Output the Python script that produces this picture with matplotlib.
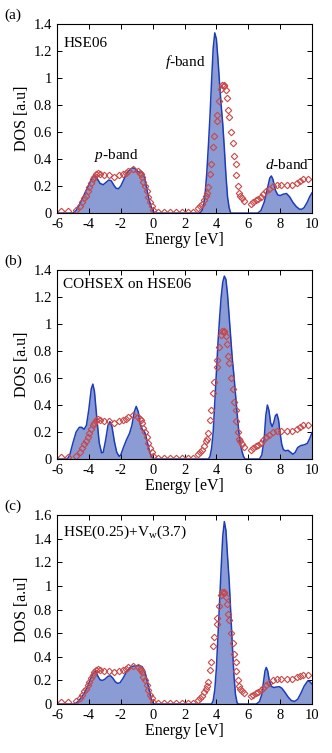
import matplotlib
matplotlib.use("Agg")
import matplotlib.pyplot as plt
from matplotlib.ticker import MultipleLocator, FuncFormatter

plt.rcParams['font.family'] = ['Liberation Serif', 'DejaVu Serif']
plt.rcParams['mathtext.fontset'] = 'custom'
plt.rcParams['mathtext.rm'] = 'Liberation Serif'
plt.rcParams['mathtext.it'] = 'Liberation Serif:italic'
plt.rcParams['axes.unicode_minus'] = False

# Experimental data (red diamonds), same in all panels
exp_e = [-5.75, -5.29, -4.83, -4.56, -4.41, -4.29, -4.18, -4.08, -3.97, -3.87, -3.76, -3.66,
         -3.55, -3.45, -3.3, -3.03, -2.74, -2.4, -2.09, -1.84, -1.67, -1.53, -1.25, -0.94,
         -0.80, -0.73, -0.65, -0.59, -0.48, -0.37, -0.27, -0.17, -0.06, 0.04, 0.34, 0.69,
         1.11, 1.49, 1.87, 2.22, 2.55, 2.83, 2.97, 3.12, 3.24, 3.33, 3.41, 3.5, 3.58, 3.66,
         3.79, 3.87, 4.02, 4.06, 4.18, 4.29, 4.37, 4.45, 4.5, 4.58, 4.64, 4.74, 4.81, 4.92,
         5.02, 5.12, 5.21, 5.25, 5.34, 5.42, 5.48, 5.59, 5.75, 6.2, 6.32, 6.49, 6.63, 6.78,
         6.94, 7.11, 7.32, 7.53, 7.78, 8.05, 8.41, 8.72, 9.04, 9.25, 9.45, 9.77]
exp_dos = [0.015, 0.015, 0.022, 0.053, 0.08, 0.11, 0.13, 0.16, 0.19, 0.22, 0.25, 0.27,
           0.29, 0.30, 0.29, 0.28, 0.28, 0.27, 0.28, 0.29, 0.30, 0.31, 0.325, 0.31,
           0.30, 0.29, 0.27, 0.23, 0.20, 0.16, 0.12, 0.08, 0.05, 0.02, 0.01, 0.01,
           0.01, 0.01, 0.008, 0.005, 0.01, 0.035, 0.054, 0.07, 0.10, 0.13, 0.15, 0.19, 0.29, 0.36,
           0.49, 0.57, 0.68, 0.73, 0.83, 0.92, 0.95, 0.94, 0.95, 0.91, 0.85, 0.76, 0.71, 0.60,
           0.52, 0.42, 0.36, 0.28, 0.20, 0.15, 0.13, 0.11, 0.09, 0.07, 0.08, 0.095, 0.105, 0.12,
           0.14, 0.16, 0.175, 0.20, 0.21, 0.21, 0.21, 0.21, 0.225, 0.237, 0.25, 0.25]

# (a) HSE06
a_e = [-6, -5.0, -4.8, -4.6, -4.4, -4.2, -4.0, -3.8, -3.65, -3.5, -3.3, -3.1, -2.9, -2.75, -2.6,
       -2.45, -2.3, -2.15, -2.0, -1.8, -1.6, -1.4, -1.25, -1.1, -0.95, -0.8, -0.7, -0.6, -0.5,
       -0.4, -0.3, -0.2, -0.1, 0.0, 0.1, 0.2,
       2.9, 3.0, 3.1, 3.2, 3.3, 3.4, 3.5, 3.6, 3.7, 3.8, 3.9, 4.0, 4.1, 4.2, 4.3, 4.4, 4.5, 4.6,
       4.7, 4.8, 4.9,
       6.6, 6.8, 7.0, 7.2, 7.35, 7.45, 7.55, 7.7, 7.85, 8.0, 8.2, 8.4, 8.6, 8.8, 9.0, 9.2, 9.35,
       9.5, 9.7, 9.85, 10]
a_dos = [0, 0, 0.02, 0.06, 0.11, 0.16, 0.21, 0.26, 0.28, 0.26, 0.22, 0.21, 0.23, 0.245, 0.24,
         0.21, 0.185, 0.18, 0.20, 0.25, 0.30, 0.325, 0.335, 0.33, 0.31, 0.30, 0.305, 0.295, 0.26,
         0.20, 0.14, 0.09, 0.05, 0.02, 0.005, 0,
         0, 0.005, 0.02, 0.06, 0.15, 0.30, 0.50, 0.72, 0.98, 1.22, 1.335, 1.29, 1.14, 0.96, 0.80,
         0.66, 0.48, 0.28, 0.12, 0.04, 0,
         0, 0.02, 0.08, 0.18, 0.26, 0.275, 0.25, 0.17, 0.135, 0.13, 0.14, 0.145, 0.12, 0.08, 0.05,
         0.03, 0.028, 0.04, 0.08, 0.12, 0.15]

# (b) COHSEX on HSE06
b_e = [-6, -5.35, -5.2, -5.0, -4.8, -4.6, -4.45, -4.3, -4.15, -4.0, -3.85, -3.75, -3.65, -3.5,
       -3.35, -3.2, -3.1, -2.95, -2.8, -2.68, -2.55, -2.4, -2.25, -2.1, -2.0, -1.85, -1.65,
       -1.45, -1.3, -1.15, -1.03, -0.9, -0.78, -0.65, -0.5, -0.4, -0.3, -0.2, -0.1, 0.0, 0.1,
       3.5, 3.6, 3.7, 3.8, 3.9, 4.0, 4.1, 4.2, 4.3, 4.4, 4.5, 4.6, 4.7, 4.8, 4.9, 5.0, 5.1, 5.2,
       5.3, 5.4, 5.5, 5.6, 5.7, 5.8,
       6.7, 6.85, 7.0, 7.1, 7.2, 7.3, 7.4, 7.5, 7.6, 7.7, 7.8, 7.9, 8.0, 8.1, 8.2, 8.35, 8.5,
       8.65, 8.8, 8.95, 9.1, 9.3, 9.5, 9.7, 9.85, 10]
b_dos = [0, 0, 0.03, 0.12, 0.20, 0.235, 0.235, 0.22, 0.25, 0.37, 0.52, 0.555, 0.50, 0.30,
         0.12, 0.045, 0.05, 0.14, 0.25, 0.277, 0.24, 0.13, 0.05, 0.02, 0.03, 0.08, 0.14,
         0.19, 0.25, 0.35, 0.39, 0.35, 0.26, 0.22, 0.20, 0.16, 0.11, 0.06, 0.025, 0.008, 0,
         0, 0.02, 0.08, 0.20, 0.42, 0.64, 0.86, 1.04, 1.20, 1.31, 1.355, 1.33, 1.22, 1.06, 0.90,
         0.74, 0.62, 0.48, 0.34, 0.21, 0.12, 0.06, 0.02, 0,
         0, 0.03, 0.15, 0.32, 0.40, 0.36, 0.27, 0.24, 0.27, 0.32, 0.333, 0.29, 0.19, 0.11, 0.07,
         0.06, 0.065, 0.05, 0.035, 0.05, 0.085, 0.10, 0.105, 0.115, 0.15, 0.195]

# (c) HSE(0.25)+Vw(3.7)
c_e = [-6, -4.9, -4.7, -4.5, -4.3, -4.1, -3.9, -3.75, -3.6, -3.45, -3.3, -3.15, -3.0, -2.8,
       -2.65, -2.5, -2.35, -2.2, -2.05, -1.85, -1.65, -1.45, -1.25, -1.0, -0.8, -0.65, -0.5,
       -0.4, -0.3, -0.2, -0.1, 0.0, 0.1,
       3.7, 3.8, 3.9, 4.0, 4.1, 4.2, 4.3, 4.4, 4.5, 4.6, 4.7, 4.8, 4.9, 5.0, 5.1, 5.2, 5.3, 5.4,
       6.5, 6.7, 6.85, 6.95, 7.05, 7.13, 7.22, 7.32, 7.45, 7.6, 7.8, 7.95, 8.1, 8.3, 8.5, 8.7,
       8.9, 9.1, 9.3, 9.5, 9.7, 9.8, 9.9, 10]
c_dos = [0, 0, 0.02, 0.05, 0.09, 0.14, 0.21, 0.26, 0.28, 0.24, 0.205, 0.20, 0.21, 0.235,
         0.24, 0.22, 0.19, 0.175, 0.18, 0.22, 0.27, 0.305, 0.32, 0.325, 0.325, 0.315, 0.28,
         0.23, 0.17, 0.11, 0.05, 0.015, 0,
         0, 0.03, 0.12, 0.30, 0.58, 0.86, 1.15, 1.42, 1.545, 1.47, 1.25, 1.05, 0.78, 0.50, 0.25,
         0.08, 0.01, 0,
         0, 0.02, 0.08, 0.18, 0.28, 0.31, 0.28, 0.20, 0.15, 0.14, 0.145, 0.147, 0.135, 0.10,
         0.06, 0.03, 0.022, 0.04, 0.09, 0.15, 0.19, 0.195, 0.185, 0.17]

panels = [
    ("(a)", "HSE06", a_e, a_dos, 1.4, 0.968, 0.898),
    ("(b)", "COHSEX on HSE06", b_e, b_dos, 1.4, 0.6414, 0.924),
    ("(c)", r"HSE(0.25)+V$_\mathrm{w}$(3.7)", c_e, c_dos, 1.6, 0.316, 0.91),
]

fill_col = '#8b9bd3'
line_col = '#1d3cb8'
red_col = '#c94848'

W, H = 332, 753
fig = plt.figure(figsize=(W / 100, H / 100), dpi=100)

for i, (plab, title, xe, yd, ymax, top, ty) in enumerate(panels):
    ax = fig.add_axes([57 / W, top - 189 / H, 255 / W, 189 / H])
    ax.fill_between(xe, yd, 0, color=fill_col, lw=0)
    ax.plot(xe, yd, color=line_col, lw=1.1)
    ax.plot(exp_e, exp_dos, 'D', ms=3.3, mfc='none', mec=red_col, mew=0.8)
    ax.set_xlim(-6, 10)
    ax.set_ylim(0, ymax)
    ax.xaxis.set_major_locator(MultipleLocator(2))
    ax.yaxis.set_major_locator(MultipleLocator(0.2))
    ax.yaxis.set_major_formatter(FuncFormatter(lambda v, p: f"{v:g}"))
    ax.xaxis.set_major_formatter(FuncFormatter(lambda v, p: f"{v:g}"))
    ax.tick_params(direction='in', top=True, right=True, labelsize=10.5, length=3.5,
                   width=0.7)
    ax.tick_params(axis='x', pad=3.5)
    ax.tick_params(axis='y', pad=3.5)
    for s in ax.spines.values():
        s.set_linewidth(0.8)
    ax.set_xlabel("Energy [eV]", fontsize=11.5, labelpad=0.5)
    ax.set_ylabel("DOS [a.u]", fontsize=11.5, labelpad=2.5)
    ax.text(0.025, ty, title, transform=ax.transAxes, fontsize=11, va='center', ha='left')
    fig.text(4 / W, top + 9 / H, plab, fontsize=11, va='center', ha='left')
    if i == 0:
        ax.text(2.03, 1.12, r"$\it{f}$-band", fontsize=11, ha='center', va='center')
        ax.text(-2.26, 0.43, r"$\it{p}$-band", fontsize=11, ha='center', va='center')
        ax.text(8.43, 0.355, r"$\it{d}$-band", fontsize=11, ha='center', va='center')

fig.savefig("out.png", dpi=100)
